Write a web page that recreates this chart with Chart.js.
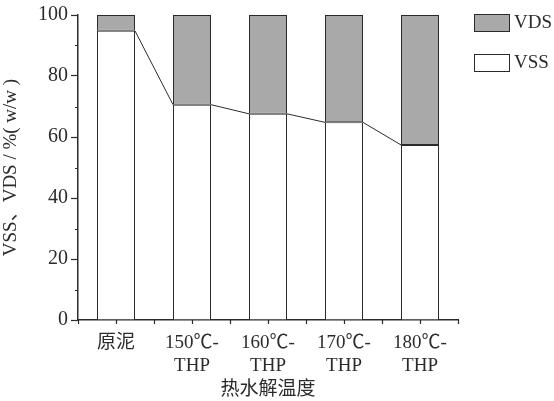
<!DOCTYPE html>
<html>
<head>
<meta charset="utf-8">
<script src="https://cdn.jsdelivr.net/npm/chart.js@4/dist/chart.umd.min.js"></script>
<style>
  html, body { margin: 0; padding: 0; background: #fff; }
  #wrap { width: 554px; height: 401px; position: relative; }
</style>
</head>
<body>
<div id="wrap"><canvas id="c"></canvas></div>
<script>
// Categories (hydrolysis temperature) and the stacked shares of VSS / VDS
const categories = ['原泥', ['150℃-', 'THP'], ['160℃-', 'THP'], ['170℃-', 'THP'], ['180℃-', 'THP']];
const vssValues = [94.8, 70.6, 67.6, 64.8, 57.4];
const vdsValues = [5.2, 29.4, 32.4, 35.2, 42.6];
const yTickValues = [0, 20, 40, 60, 80, 100];

const FONT = "'Liberation Serif', 'Noto Sans CJK SC', serif";
const INK = '#2b2b2b';

// Connect the tops of neighbouring VSS bars and draw minor / category ticks
const extras = {
  id: 'extras',
  afterDatasetsDraw(chart) {
    const ctx = chart.ctx;
    const meta = chart.getDatasetMeta(0);
    ctx.save();
    ctx.strokeStyle = INK;
    ctx.lineWidth = 1;
    ctx.beginPath();
    for (let i = 0; i < meta.data.length - 1; i++) {
      const a = meta.data[i], b = meta.data[i + 1];
      ctx.moveTo(a.x + a.width / 2, a.y);
      ctx.lineTo(b.x - b.width / 2, b.y);
    }
    ctx.stroke();
    ctx.restore();
  },
  afterDraw(chart) {
    const ctx = chart.ctx;
    const xs = chart.scales.x, ys = chart.scales.y;
    ctx.save();
    ctx.strokeStyle = INK;
    ctx.lineWidth = 1.2;
    ctx.beginPath();
    // minor y ticks
    for (let v = 10; v < 100; v += 20) {
      const y = Math.round(ys.getPixelForValue(v)) + 0.5;
      ctx.moveTo(xs.left - 3, y);
      ctx.lineTo(xs.left, y);
    }
    // x ticks at category centres and boundaries
    const n = categories.length;
    const step = (xs.right - xs.left) / n;
    for (let k = 0; k <= 2 * n; k++) {
      const x = Math.round(xs.left + k * step / 2) + 0.5;
      ctx.moveTo(x, ys.bottom);
      ctx.lineTo(x, ys.bottom + 4);
    }
    ctx.stroke();

    // legend on the right
    const items = [chart.data.datasets[1], chart.data.datasets[0]];
    ctx.font = '19px ' + FONT;
    ctx.textBaseline = 'middle';
    items.forEach((ds, i) => {
      const top = 14 + i * 40;
      ctx.fillStyle = ds.backgroundColor;
      ctx.fillRect(474, top, 35, 17);
      ctx.lineWidth = 1;
      ctx.strokeStyle = INK;
      ctx.strokeRect(474.5, top + 0.5, 35, 17);
      ctx.fillStyle = INK;
      ctx.fillText(ds.label, 514, top + 9);
    });
    ctx.restore();
  }
};

new Chart(document.getElementById('c'), {
  type: 'bar',
  data: {
    labels: categories,
    datasets: [
      {
        label: 'VSS',
        data: vssValues,
        backgroundColor: '#ffffff',
        borderColor: INK,
        borderWidth: 1,
        borderSkipped: 'start'
      },
      {
        label: 'VDS',
        data: vdsValues,
        backgroundColor: '#a9a9a9',
        borderColor: INK,
        borderWidth: 1,
        borderSkipped: false
      }
    ]
  },
  options: {
    responsive: true,
    maintainAspectRatio: false,
    animation: false,
    devicePixelRatio: 1,
    layout: { padding: { top: 14, right: 96, left: 0, bottom: 0 } },
    datasets: { bar: { categoryPercentage: 1, barPercentage: 0.5 } },
    plugins: {
      legend: { display: false },
      tooltip: { enabled: false }
    },
    scales: {
      x: {
        stacked: true,
        offset: true,
        grid: { display: false, drawTicks: false },
        border: { display: true, color: INK, width: 1.5 },
        ticks: {
          color: INK,
          font: { family: FONT, size: 19, lineHeight: 1.2 },
          padding: 12,
          maxRotation: 0,
          autoSkip: false
        },
        title: {
          display: true,
          text: '热水解温度',
          color: INK,
          font: { family: FONT, size: 19 },
          padding: { top: 0, bottom: 0 }
        },
        afterFit(scale) { scale.height = 81; }
      },
      y: {
        stacked: true,
        min: 0,
        max: 100,
        afterBuildTicks(scale) {
          scale.ticks = yTickValues.map(v => ({ value: v }));
        },
        grid: {
          drawOnChartArea: false,
          drawTicks: true,
          tickLength: 7,
          tickColor: INK,
          tickWidth: 1.2
        },
        border: { display: true, color: INK, width: 1.5 },
        ticks: {
          color: INK,
          font: { family: FONT, size: 20 },
          padding: 3
        },
        title: {
          display: true,
          text: 'VSS、VDS / %( w/w )',
          color: INK,
          font: { family: FONT, size: 19 },
          padding: { top: 0, bottom: 6 }
        },
        afterFit(scale) { scale.width = 78; }
      }
    }
  },
  plugins: [extras]
});
</script>
</body>
</html>
